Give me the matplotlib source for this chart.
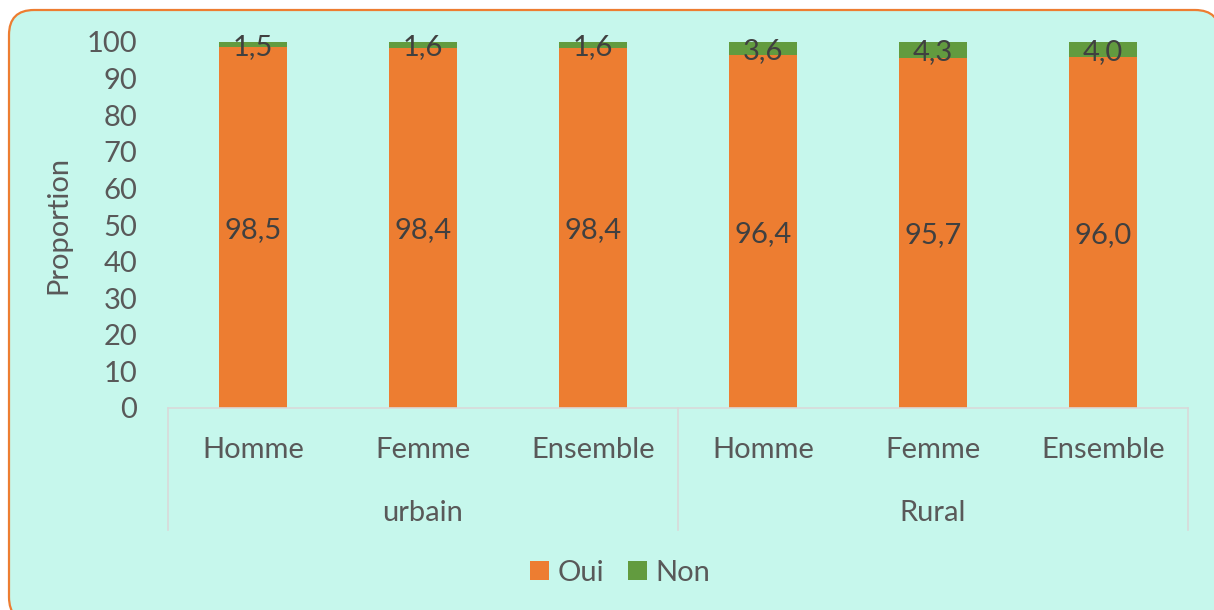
import matplotlib
matplotlib.use("Agg")
import matplotlib.pyplot as plt
import matplotlib.transforms as mtransforms
from matplotlib.patches import FancyBboxPatch, Patch

# Proportions par milieu de résidence et sexe
sexes = ["Homme", "Femme", "Ensemble", "Homme", "Femme", "Ensemble"]
milieux = ["urbain", "Rural"]
oui = [98.5, 98.4, 98.4, 96.4, 95.7, 96.0]
non = [1.5, 1.6, 1.6, 3.6, 4.3, 4.0]

ORANGE = "#ED7D31"
GREEN = "#629B3F"
BG = "#C6F7EC"
TXT = "#595959"
LBL = "#404040"
GRID = "#D9D9D9"

plt.rcParams["font.family"] = ["Lato", "DejaVu Sans"]
FS = 21


def fr(v):
    return f"{v:.1f}".replace(".", ",")


fig = plt.figure(figsize=(12.14, 6.10), dpi=100)
fig.patch.set_facecolor("white")

# rounded frame in pixel coordinates (runs off the right and bottom edges)
R = 25
x0, y0, x1, y1 = 9, -12, 1220, 600
frame = FancyBboxPatch((x0 + R, y0 + R), (x1 - x0) - 2 * R, (y1 - y0) - 2 * R,
                       boxstyle=f"round,pad={R}",
                       transform=mtransforms.IdentityTransform(),
                       facecolor=BG, edgecolor=ORANGE, linewidth=1.6,
                       zorder=-10)
fig.patches.append(frame)

ax = fig.add_axes([168 / 1214, 1 - 408 / 610, 1020 / 1214, 366 / 610])
ax.set_facecolor("none")

x = list(range(len(sexes)))
w = 0.4
ax.bar(x, oui, width=w, color=ORANGE, zorder=2)
ax.bar(x, non, width=w, bottom=oui, color=GREEN, zorder=2)

for xi, o, n in zip(x, oui, non):
    ax.text(xi, o / 2, fr(o), ha="center", va="center_baseline", fontsize=FS,
            color=LBL, zorder=3)
    ax.text(xi, o + n / 2, fr(n), ha="center", va="center_baseline",
            fontsize=FS, color=LBL, zorder=3)

ax.set_xlim(-0.5, len(sexes) - 0.5)
ax.set_ylim(0, 100)
ax.set_yticks(range(0, 101, 10))
ax.tick_params(axis="y", length=0, labelsize=FS, labelcolor=TXT, pad=22)
ax.set_xticks([])
for s in ["top", "right", "left"]:
    ax.spines[s].set_visible(False)
ax.spines["bottom"].set_color(GRID)
ax.spines["bottom"].set_linewidth(1.2)

ax.set_ylabel("Proportion", fontsize=FS, color=TXT, labelpad=11)

# two-level category axis
trans = mtransforms.blended_transform_factory(ax.transData, ax.transAxes)
for xs in [-0.5, 2.5, 5.5]:
    ax.plot([xs, xs], [0, -0.333], transform=trans, color=GRID, lw=1.2,
            clip_on=False)
for xi, s in zip(x, sexes):
    ax.text(xi, -0.109, s, transform=trans, ha="center",
            va="center_baseline", fontsize=FS, color=TXT)
for gi, m in enumerate(milieux):
    ax.text(gi * 3 + 1, -0.279, m, transform=trans, ha="center",
            va="center_baseline", fontsize=FS, color=TXT)

handles = [Patch(facecolor=ORANGE, label="Oui"), Patch(facecolor=GREEN, label="Non")]
fig.legend(handles=handles, loc="center", bbox_to_anchor=(620 / 1214, 1 - 573 / 610),
           ncol=2, frameon=False, fontsize=FS, labelcolor=TXT,
           handlelength=0.65, handleheight=0.65, handletextpad=0.3,
           columnspacing=0.8)

fig.savefig("out.png", dpi=100)
